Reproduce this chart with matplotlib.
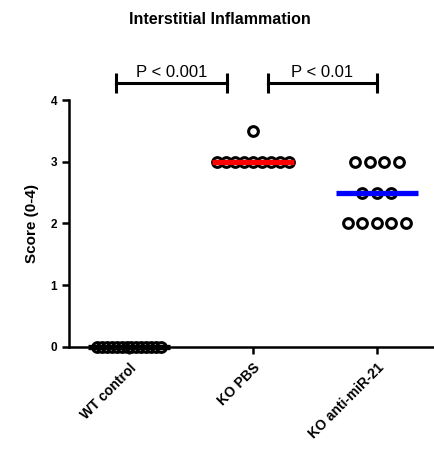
import matplotlib
matplotlib.use("Agg")
import matplotlib.pyplot as plt
import numpy as np

plt.rcParams['font.family'] = ['Liberation Sans', 'DejaVu Sans']

groups = ['WT control', 'KO PBS', 'KO anti-miR-21']
wt_control = [0] * 14
ko_pbs = [3, 3, 3, 3, 3, 3, 3, 3, 3, 3.5]
ko_anti_mir21 = [3, 3, 3, 3, 2.5, 2.5, 2.5, 2, 2, 2, 2, 2]
scores = [wt_control, ko_pbs, ko_anti_mir21]
medians = [0, 3, 2.5]
median_colors = ['black', 'red', 'blue']
comparisons = [(0, 1, 'P < 0.001'), (1, 2, 'P < 0.01')]

# horizontal gap between dots sharing the same score, per group
dot_gap = [0.04, 0.073, 0.117]


def spread(values, gap):
    """x offsets so that equal values sit side by side around the centre"""
    values = np.asarray(values, dtype=float)
    offsets = np.zeros(len(values))
    for v in np.unique(values):
        idx = np.where(values == v)[0]
        n = len(idx)
        offsets[idx] = (np.arange(n) - (n - 1) / 2) * gap
    return offsets


fig = plt.figure(figsize=(4.34, 4.66), dpi=100)
ax = fig.add_axes([0.159, 0.2554, 0.841, 0.530])

for i, vals in enumerate(scores):
    x = i + spread(vals, dot_gap[i])
    ax.plot(x, vals, 'o', ms=7, mfc='white', mec='black', mew=2.2,
            ls='none', clip_on=False, zorder=3)
    ax.plot([i - 0.33, i + 0.33], [medians[i], medians[i]],
            color=median_colors[i], lw=3.8, solid_capstyle='butt',
            clip_on=False, zorder=4)

# significance brackets
bar_y = 4.275
for a, b, label in comparisons:
    x0 = a - 0.105 if a == 0 else a + 0.12
    x1 = b - 0.21 if a == 0 else b
    ax.plot([x0, x1], [bar_y, bar_y], color='black', lw=2.2,
            clip_on=False)
    for xe in (x0, x1):
        ax.plot([xe, xe], [bar_y - 0.16, bar_y + 0.16], color='black',
                lw=2.2, clip_on=False, solid_capstyle='butt')
    ax.text((x0 + x1) / 2, bar_y + 0.05, label, ha='center', va='bottom',
            fontsize=12)

ax.set_xlim(-0.484, 2.46)
ax.set_ylim(0, 4)
ax.set_yticks([0, 1, 2, 3, 4])
ax.set_xticks([0, 1, 2])
ax.set_xticklabels(groups, rotation=45, ha='right', rotation_mode='anchor',
                   fontsize=10, fontweight='bold')
for lab in ax.get_yticklabels():
    lab.set_fontweight('bold')
    lab.set_fontsize(8.5)
ax.tick_params(axis='both', width=1.8, length=5, direction='out')
ax.tick_params(axis='x', pad=5)

for side in ('top', 'right'):
    ax.spines[side].set_visible(False)
for side in ('left', 'bottom'):
    ax.spines[side].set_linewidth(1.8)

ax.set_ylabel('Score (0-4)', fontsize=11, fontweight='bold', labelpad=8)
fig.text(0.507, 0.958, 'Interstitial Inflammation', ha='center',
         va='center', fontsize=11.5, fontweight='bold')

fig.savefig('out.png', dpi=100)
